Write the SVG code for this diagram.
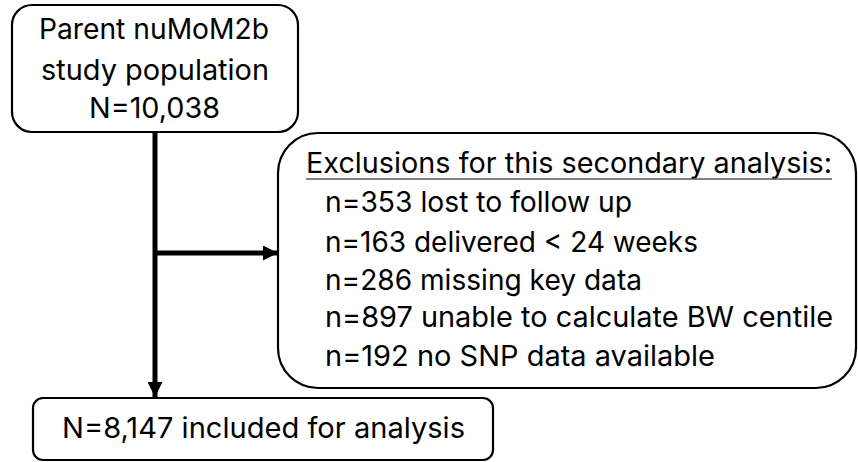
<svg xmlns="http://www.w3.org/2000/svg" width="858" height="462" viewBox="0 0 858 462">
  <style>
    .box { fill: #ffffff; stroke: #000000; stroke-width: 2.2; }
    .lbl { font-family: "Inter", "Open Sans", "DejaVu Sans", sans-serif; font-size: 28.5px; fill: #000000; }
    .conn { stroke: #000000; stroke-width: 5; fill: none; }
    .ul { stroke: #555555; stroke-width: 1.6; }
  </style>
  <defs>
    <marker id="arrow" viewBox="0 0 10 10" refX="10" refY="5" markerWidth="3" markerHeight="3" markerUnits="strokeWidth" orient="auto">
      <path d="M0,0 L10,5 L0,10 Z" fill="#000000"/>
    </marker>
  </defs>

  <!-- connectors -->
  <g id="connectors">
    <line class="conn" x1="155" y1="132" x2="155" y2="397" marker-end="url(#arrow)"/>
    <line class="conn" x1="155" y1="253" x2="278" y2="253" marker-end="url(#arrow)"/>
  </g>

  <!-- parent study population -->
  <g id="parent">
    <rect class="box" x="12" y="5" width="286" height="127" rx="20" ry="20"/>
    <text class="lbl" x="39" y="39" textLength="230" lengthAdjust="spacingAndGlyphs">Parent nuMoM2b</text>
    <text class="lbl" x="41" y="80" textLength="228" lengthAdjust="spacingAndGlyphs">study population</text>
    <text class="lbl" x="89" y="118" textLength="131" lengthAdjust="spacingAndGlyphs">N=10,038</text>
  </g>

  <!-- exclusions -->
  <g id="exclusions">
    <rect class="box" x="278" y="133" width="578" height="255" rx="40" ry="40"/>
    <text class="lbl" x="306" y="173" textLength="526" lengthAdjust="spacingAndGlyphs">Exclusions for this secondary analysis:</text>
    <line class="ul" x1="306" y1="179" x2="832" y2="179"/>
    <text class="lbl" x="325" y="212" textLength="307" lengthAdjust="spacingAndGlyphs">n=353 lost to follow up</text>
    <text class="lbl" x="325" y="251.5" textLength="373" lengthAdjust="spacingAndGlyphs">n=163 delivered &lt; 24 weeks</text>
    <text class="lbl" x="325" y="290" textLength="317" lengthAdjust="spacingAndGlyphs">n=286 missing key data</text>
    <text class="lbl" x="325" y="327" textLength="508" lengthAdjust="spacingAndGlyphs">n=897 unable to calculate BW centile</text>
    <text class="lbl" x="325" y="365.5" textLength="390" lengthAdjust="spacingAndGlyphs">n=192 no SNP data available</text>
  </g>

  <!-- analysis cohort -->
  <g id="included">
    <rect class="box" x="33" y="398" width="460" height="62" rx="10" ry="10"/>
    <text class="lbl" x="62" y="438" textLength="403" lengthAdjust="spacingAndGlyphs">N=8,147 included for analysis</text>
  </g>
</svg>
